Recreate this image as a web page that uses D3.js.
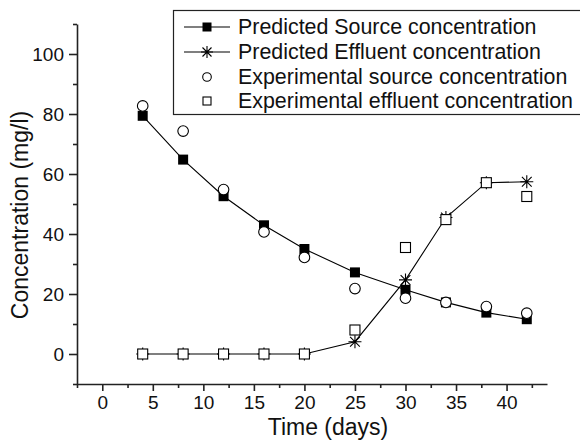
<!DOCTYPE html>
<html>
<head>
  <style>
    body { margin: 0; background: #fff; }
    svg { font-family: Arial, "Liberation Sans", sans-serif; }
  </style>
</head>
<body>
  <svg id="chart" width="580" height="440"></svg>
  <script src="https://d3js.org/d3.v7.min.js"></script>
  <script>
    // Sample data
    const days = [4, 8, 12, 16, 20, 25, 30, 34, 38, 42];
    const predictedSource = [79.4, 64.8, 52.6, 42.9, 35.0, 27.2, 21.4, 17.2, 13.8, 11.6];
    const predictedEffluent = [0, 0, 0, 0, 0, 4.1, 24.7, 45.5, 57.1, 57.4];
    const expSource = [82.7, 74.3, 54.8, 40.7, 32.2, 21.8, 18.6, 17.2, 15.8, 13.6];
    const expEffluent = [0, 0, 0, 0, 0, 8.0, 35.5, 44.8, 57.1, 52.5];
    const xMajor = [0, 5, 10, 15, 20, 25, 30, 35, 40];
    const xMinor = [-2.5, 2.5, 7.5, 12.5, 17.5, 22.5, 27.5, 32.5, 37.5, 42.5];
    const yMajor = [0, 20, 40, 60, 80, 100];
    const yMinor = [-10, 10, 30, 50, 70, 90, 110];
    const legendLabels = [
      "Predicted Source concentration",
      "Predicted Effluent concentration",
      "Experimental source concentration",
      "Experimental effluent concentration"
    ];

    const svg = d3.select("#chart");

    // Scales
    const x = d3.scaleLinear().domain([-2.5, 44]).range([77, 547]);
    const y = d3.scaleLinear().domain([-10, 110]).range([384, 24]);

    // Axes
    function styleAxis(g) {
      g.selectAll("path, line").attr("stroke", "#222").attr("stroke-width", 1.6);
      g.selectAll("text").attr("fill", "#111").style("font-size", "19px");
    }

    svg.append("g")
      .attr("transform", "translate(0,384)")
      .call(d3.axisBottom(x).tickValues(xMajor).tickSize(7).tickSizeOuter(0).tickPadding(5))
      .call(styleAxis);
    svg.append("g")
      .attr("transform", "translate(0,384)")
      .call(d3.axisBottom(x).tickValues(xMinor).tickSize(4).tickFormat(""))
      .call(g => g.select(".domain").remove())
      .call(styleAxis);

    svg.append("g")
      .attr("transform", "translate(77,0)")
      .call(d3.axisLeft(y).tickValues(yMajor).tickSize(8).tickSizeOuter(0).tickPadding(5))
      .call(styleAxis);
    svg.append("g")
      .attr("transform", "translate(77,0)")
      .call(d3.axisLeft(y).tickValues(yMinor).tickSize(4).tickFormat(""))
      .call(g => g.select(".domain").remove())
      .call(styleAxis);

    // Axis titles
    svg.append("text")
      .attr("x", 328).attr("y", 435)
      .attr("text-anchor", "middle")
      .attr("fill", "#111")
      .style("font-size", "23px")
      .text("Time (days)");
    svg.append("text")
      .attr("transform", "translate(28,215) rotate(-90)")
      .attr("text-anchor", "middle")
      .attr("fill", "#111")
      .style("font-size", "23px")
      .text("Concentration (mg/l)");

    // Marker helpers
    function filledSquare(g, cx, cy, s) {
      g.append("rect").attr("x", cx - s / 2).attr("y", cy - s / 2)
        .attr("width", s).attr("height", s).attr("fill", "#000");
    }
    function asterisk(g, cx, cy, r) {
      const p = d3.path();
      p.moveTo(cx - r, cy); p.lineTo(cx + r, cy);
      p.moveTo(cx, cy - r); p.lineTo(cx, cy + r);
      const d = r * 0.75;
      p.moveTo(cx - d, cy - d); p.lineTo(cx + d, cy + d);
      p.moveTo(cx - d, cy + d); p.lineTo(cx + d, cy - d);
      g.append("path").attr("d", p.toString()).attr("stroke", "#000").attr("stroke-width", 1.1).attr("fill", "none");
    }
    function openCircle(g, cx, cy, r) {
      g.append("circle").attr("cx", cx).attr("cy", cy).attr("r", r)
        .attr("fill", "#fff").attr("stroke", "#000").attr("stroke-width", 1.1);
    }
    function openSquare(g, cx, cy, s) {
      g.append("rect").attr("x", cx - s / 2).attr("y", cy - s / 2)
        .attr("width", s).attr("height", s)
        .attr("fill", "#fff").attr("stroke", "#000").attr("stroke-width", 1.1);
    }

    const line = d3.line().x(d => x(d[0])).y(d => y(d[1]));
    const plot = svg.append("g");

    // Predicted source
    plot.append("path")
      .datum(days.map((d, i) => [d, predictedSource[i]]))
      .attr("d", line).attr("fill", "none").attr("stroke", "#000").attr("stroke-width", 1.1);
    days.forEach((d, i) => filledSquare(plot, x(d), y(predictedSource[i]), 10));

    // Predicted effluent
    plot.append("path")
      .datum(days.map((d, i) => [d, predictedEffluent[i]]))
      .attr("d", line).attr("fill", "none").attr("stroke", "#000").attr("stroke-width", 1.1);
    days.forEach((d, i) => asterisk(plot, x(d), y(predictedEffluent[i]), 6.5));

    // Experimental points
    days.forEach((d, i) => openCircle(plot, x(d), y(expSource[i]), 5.3));
    days.forEach((d, i) => openSquare(plot, x(d), y(expEffluent[i]), 10));

    // Legend
    const legend = svg.append("g");
    legend.append("rect")
      .attr("x", 173.5).attr("y", 10.5).attr("width", 420).attr("height", 104)
      .attr("fill", "#fff").attr("stroke", "#222").attr("stroke-width", 1.2);
    const rowY = [27, 52, 77, 101];
    legendLabels.forEach((label, i) => {
      const cy = rowY[i];
      if (i < 2) {
        legend.append("line").attr("x1", 184).attr("x2", 230).attr("y1", cy).attr("y2", cy)
          .attr("stroke", "#000").attr("stroke-width", 1.1);
      }
      if (i === 0) filledSquare(legend, 207, cy, 9);
      if (i === 1) asterisk(legend, 207, cy, 6);
      if (i === 2) openCircle(legend, 207, cy, 4.3);
      if (i === 3) openSquare(legend, 207, cy, 8);
      legend.append("text")
        .attr("x", 238).attr("y", cy).attr("dy", "0.35em")
        .style("font-size", "21.4px")
        .attr("fill", "#111")
        .text(label);
    });
  </script>
</body>
</html>
